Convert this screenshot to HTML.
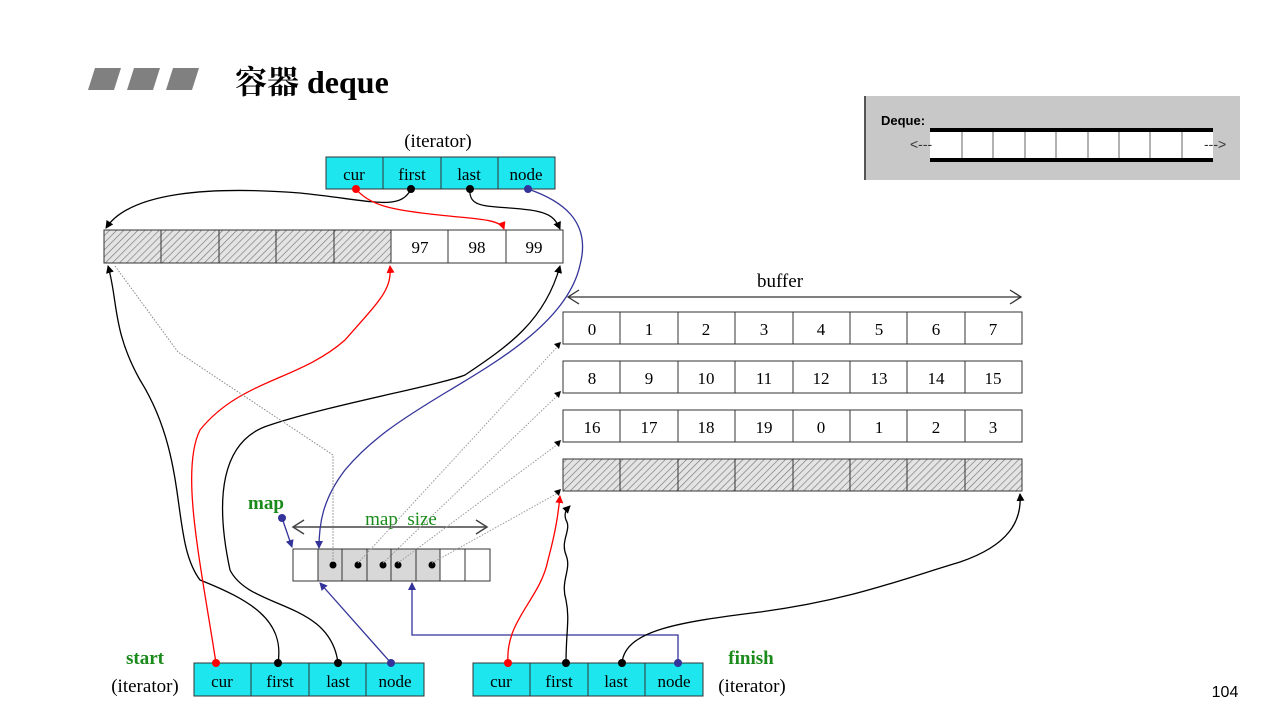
<!DOCTYPE html>
<html><head><meta charset="utf-8"><style>
body{margin:0;background:#fff;}
svg{display:block;font-family:"Liberation Serif","Noto Serif CJK SC",serif;}
</style></head><body>
<svg width="1280" height="728" viewBox="0 0 1280 728">
<defs>
<pattern id="hatch" width="5" height="5" patternUnits="userSpaceOnUse" patternTransform="rotate(45)">
<rect width="5" height="5" fill="#e4e4e4"/><line x1="0" y1="0" x2="0" y2="5" stroke="#777" stroke-width="1.3"/>
</pattern>
<marker id="ak" markerWidth="8" markerHeight="8" refX="7" refY="4" orient="auto" markerUnits="userSpaceOnUse"><path d="M0,0L8,4L0,8z" fill="#000"/></marker>
<marker id="ar" markerWidth="8" markerHeight="8" refX="7" refY="4" orient="auto" markerUnits="userSpaceOnUse"><path d="M0,0L8,4L0,8z" fill="#f00"/></marker>
<marker id="ab" markerWidth="8" markerHeight="8" refX="7" refY="4" orient="auto" markerUnits="userSpaceOnUse"><path d="M0,0L8,4L0,8z" fill="#33339a"/></marker>
</defs>

<!-- title -->
<g fill="#808080">
<polygon points="95,68 121,68 114,90 88,90"/><polygon points="134,68 160,68 153,90 127,90"/><polygon points="173,68 199,68 192,90 166,90"/>
</g>
<text x="235" y="93" font-size="32" font-weight="bold">容器 deque</text>

<!-- inset -->
<g>
<rect x="864" y="96" width="376" height="84" fill="#c8c8c8"/>
<rect x="864" y="96" width="2" height="84" fill="#555"/>
<text x="881" y="125" font-family="Liberation Sans,sans-serif" font-size="13" font-weight="bold">Deque:</text>
<rect x="930" y="132" width="283" height="26" fill="#fff"/>
<rect x="930" y="128" width="283" height="4" fill="#000"/>
<rect x="930" y="158" width="283" height="4" fill="#000"/>
<g stroke="#666" stroke-width="1">
<line x1="962" y1="132" x2="962" y2="158"/><line x1="993" y1="132" x2="993" y2="158"/><line x1="1025" y1="132" x2="1025" y2="158"/><line x1="1056" y1="132" x2="1056" y2="158"/><line x1="1088" y1="132" x2="1088" y2="158"/><line x1="1119" y1="132" x2="1119" y2="158"/><line x1="1150" y1="132" x2="1150" y2="158"/><line x1="1182" y1="132" x2="1182" y2="158"/>
</g>
<text x="910" y="149" font-size="14" font-family="Liberation Sans,sans-serif" fill="#333">&lt;---</text>
<text x="1204" y="149" font-size="14" font-family="Liberation Sans,sans-serif" fill="#333">---&gt;</text>
</g>

<!-- top iterator -->
<text x="438" y="147" font-size="19" text-anchor="middle">(iterator)</text>
<g font-size="17" text-anchor="middle">
<rect x="326" y="157" width="229" height="32" fill="#1ee6ee" stroke="#333"/>
<line x1="383" y1="157" x2="383" y2="189" stroke="#333"/><line x1="441" y1="157" x2="441" y2="189" stroke="#333"/><line x1="498" y1="157" x2="498" y2="189" stroke="#333"/>
<text x="354" y="180">cur</text><text x="412" y="180">first</text><text x="469" y="180">last</text><text x="526" y="180">node</text>
</g>

<!-- top buffer -->
<g font-size="17" text-anchor="middle">
<rect x="104" y="230" width="287" height="33" fill="url(#hatch)"/>
<rect x="104" y="230" width="459" height="33" fill="none" stroke="#333"/>
<line x1="161" y1="230" x2="161" y2="263" stroke="#333"/><line x1="219" y1="230" x2="219" y2="263" stroke="#333"/><line x1="276" y1="230" x2="276" y2="263" stroke="#333"/><line x1="334" y1="230" x2="334" y2="263" stroke="#333"/><line x1="391" y1="230" x2="391" y2="263" stroke="#333"/><line x1="448" y1="230" x2="448" y2="263" stroke="#333"/><line x1="506" y1="230" x2="506" y2="263" stroke="#333"/>
<text x="420" y="253">97</text><text x="477" y="253">98</text><text x="534" y="253">99</text>
</g>

<!-- buffer label -->
<text x="780" y="287" font-size="19" text-anchor="middle">buffer</text>
<g>
<line x1="568" y1="297" x2="1021" y2="297" stroke="#333" stroke-width="1.3"/>
<path d="M579,290L568,297L579,304M1010,290L1021,297L1010,304" fill="none" stroke="#333" stroke-width="1.3"/>
</g>

<g font-size="17" text-anchor="middle">
<g>
<rect x="563" y="312" width="459" height="32" fill="#fff" stroke="#333"/>
<g stroke="#333"><line x1="620" y1="312" x2="620" y2="344"/><line x1="678" y1="312" x2="678" y2="344"/><line x1="735" y1="312" x2="735" y2="344"/><line x1="793" y1="312" x2="793" y2="344"/><line x1="850" y1="312" x2="850" y2="344"/><line x1="907" y1="312" x2="907" y2="344"/><line x1="965" y1="312" x2="965" y2="344"/></g>
<text x="592" y="335">0</text><text x="649" y="335">1</text><text x="706" y="335">2</text><text x="764" y="335">3</text><text x="821" y="335">4</text><text x="879" y="335">5</text><text x="936" y="335">6</text><text x="993" y="335">7</text>
</g>
<g>
<rect x="563" y="361" width="459" height="32" fill="#fff" stroke="#333"/>
<g stroke="#333"><line x1="620" y1="361" x2="620" y2="393"/><line x1="678" y1="361" x2="678" y2="393"/><line x1="735" y1="361" x2="735" y2="393"/><line x1="793" y1="361" x2="793" y2="393"/><line x1="850" y1="361" x2="850" y2="393"/><line x1="907" y1="361" x2="907" y2="393"/><line x1="965" y1="361" x2="965" y2="393"/></g>
<text x="592" y="384">8</text><text x="649" y="384">9</text><text x="706" y="384">10</text><text x="764" y="384">11</text><text x="821" y="384">12</text><text x="879" y="384">13</text><text x="936" y="384">14</text><text x="993" y="384">15</text>
</g>
<g>
<rect x="563" y="410" width="459" height="32" fill="#fff" stroke="#333"/>
<g stroke="#333"><line x1="620" y1="410" x2="620" y2="442"/><line x1="678" y1="410" x2="678" y2="442"/><line x1="735" y1="410" x2="735" y2="442"/><line x1="793" y1="410" x2="793" y2="442"/><line x1="850" y1="410" x2="850" y2="442"/><line x1="907" y1="410" x2="907" y2="442"/><line x1="965" y1="410" x2="965" y2="442"/></g>
<text x="592" y="433">16</text><text x="649" y="433">17</text><text x="706" y="433">18</text><text x="764" y="433">19</text><text x="821" y="433">0</text><text x="879" y="433">1</text><text x="936" y="433">2</text><text x="993" y="433">3</text>
</g>
<g>
<rect x="563" y="459" width="459" height="32" fill="url(#hatch)" stroke="#333"/>
<g stroke="#333"><line x1="620" y1="459" x2="620" y2="491"/><line x1="678" y1="459" x2="678" y2="491"/><line x1="735" y1="459" x2="735" y2="491"/><line x1="793" y1="459" x2="793" y2="491"/><line x1="850" y1="459" x2="850" y2="491"/><line x1="907" y1="459" x2="907" y2="491"/><line x1="965" y1="459" x2="965" y2="491"/></g>
</g>
</g>

<!-- map -->
<text x="266" y="509" font-size="19" font-weight="bold" fill="#1a8a1a" text-anchor="middle">map</text>
<text x="401" y="525" font-size="19" fill="#1a8a1a" text-anchor="middle">map_size</text>
<line x1="293" y1="527" x2="487" y2="527" stroke="#444" stroke-width="1.5"/>
<path d="M304,520L293,527L304,534M476,520L487,527L476,534" fill="none" stroke="#444" stroke-width="1.5"/>
<g>
<rect x="318" y="549" width="122" height="32" fill="#d8d8d8"/>
<rect x="293" y="549" width="197" height="32" fill="none" stroke="#333"/>
<g stroke="#333"><line x1="318" y1="549" x2="318" y2="581"/><line x1="342" y1="549" x2="342" y2="581"/><line x1="367" y1="549" x2="367" y2="581"/><line x1="391" y1="549" x2="391" y2="581"/><line x1="416" y1="549" x2="416" y2="581"/><line x1="440" y1="549" x2="440" y2="581"/><line x1="465" y1="549" x2="465" y2="581"/></g>
<g fill="#000"><circle cx="333" cy="565" r="3.5"/><circle cx="358" cy="565" r="3.5"/><circle cx="383" cy="565" r="3.5"/><circle cx="398" cy="565" r="3.5"/><circle cx="432" cy="565" r="3.5"/></g>
</g>

<!-- bottom iterators -->
<text x="145" y="664" font-size="19" font-weight="bold" fill="#1a8a1a" text-anchor="middle">start</text>
<text x="145" y="692" font-size="19" text-anchor="middle">(iterator)</text>
<text x="751" y="664" font-size="19" font-weight="bold" fill="#1a8a1a" text-anchor="middle">finish</text>
<text x="752" y="692" font-size="19" text-anchor="middle">(iterator)</text>
<g font-size="17" text-anchor="middle">
<rect x="194" y="663" width="230" height="33" fill="#1ee6ee" stroke="#333"/>
<line x1="251" y1="663" x2="251" y2="696" stroke="#333"/><line x1="309" y1="663" x2="309" y2="696" stroke="#333"/><line x1="366" y1="663" x2="366" y2="696" stroke="#333"/>
<text x="222" y="687">cur</text><text x="280" y="687">first</text><text x="338" y="687">last</text><text x="395" y="687">node</text>
</g>
<g font-size="17" text-anchor="middle">
<rect x="473" y="663" width="230" height="33" fill="#1ee6ee" stroke="#333"/>
<line x1="530" y1="663" x2="530" y2="696" stroke="#333"/><line x1="588" y1="663" x2="588" y2="696" stroke="#333"/><line x1="645" y1="663" x2="645" y2="696" stroke="#333"/>
<text x="501" y="687">cur</text><text x="559" y="687">first</text><text x="616" y="687">last</text><text x="674" y="687">node</text>
</g>

<!-- connectors -->
<g fill="none" stroke-width="1.3">
<path d="M411,189 C400,212 370,200 300,193 C210,186 130,192 106,228" stroke="#000" marker-end="url(#ak)"/>
<path d="M356,189 C370,206 395,210 430,214 C470,219 500,218 504,229" stroke="#f00" marker-end="url(#ar)"/>
<path d="M470,189 C468,210 490,205 530,210 C552,213 556,220 560,229" stroke="#000" marker-end="url(#ak)"/>
<path d="M528,189 C560,200 592,220 580,265 C568,320 500,360 450,390 C400,420 370,440 345,470 C322,500 319,525 319,548" stroke="#33339a" marker-end="url(#ab)"/>
<path d="M278,663 C285,620 250,600 200,580 C170,540 190,460 140,380 C112,330 118,300 108,266" stroke="#000" marker-end="url(#ak)"/>
<path d="M216,663 C200,560 180,470 200,430 C240,380 300,380 345,340 C380,300 392,290 390,266" stroke="#f00" marker-end="url(#ar)"/>
<path d="M338,663 C330,600 250,610 230,570 C215,500 220,440 270,425 C330,405 440,385 465,375 C510,345 545,320 560,266" stroke="#000" marker-end="url(#ak)"/>
<path d="M115,266 L178,352 L333,455 L333,562" stroke="#888" stroke-dasharray="1.5,1.5" stroke-width="1"/>
<g stroke="#999" stroke-dasharray="1.5,1.5" stroke-width="1">
<line x1="358" y1="563" x2="558" y2="346"/><line x1="383" y1="563" x2="558" y2="395"/><line x1="398" y1="563" x2="558" y2="444"/><line x1="432" y1="563" x2="558" y2="493"/>
</g>
<g fill="#000"><path d="M561,342l-7,2l5,5z"/><path d="M561,391l-7,2l5,5z"/><path d="M561,440l-7,2l5,5z"/><path d="M561,489l-7,2l5,5z"/></g>
<path d="M282,518 L292,547" stroke="#33339a" marker-end="url(#ab)"/>
<path d="M391,663 L320,583" stroke="#33339a" marker-end="url(#ab)"/>
<path d="M678,663 L678,635 L412,635 L412,583" stroke="#33339a" marker-end="url(#ab)"/>
<path d="M508,663 C505,620 540,600 548,560 C556,530 558,515 560,496" stroke="#f00" marker-end="url(#ar)"/>
<path d="M566,663 C566,630 570,620 566,600 C560,580 572,570 566,555 C560,540 572,530 566,520 C563,512 568,508 570,506" stroke="#000" marker-end="url(#ak)"/>
<path d="M622,663 C625,630 680,622 760,612 C850,600 900,580 960,562 C1010,545 1022,520 1020,494" stroke="#000" marker-end="url(#ak)"/>
</g>
<g>
<circle cx="356" cy="189" r="4" fill="#f00"/><circle cx="411" cy="189" r="4" fill="#000"/><circle cx="470" cy="189" r="4" fill="#000"/><circle cx="528" cy="189" r="4" fill="#33339a"/>
<circle cx="282" cy="518" r="4" fill="#33339a"/>
<circle cx="216" cy="663" r="4" fill="#f00"/><circle cx="278" cy="663" r="4" fill="#000"/><circle cx="338" cy="663" r="4" fill="#000"/><circle cx="391" cy="663" r="4" fill="#33339a"/>
<circle cx="508" cy="663" r="4" fill="#f00"/><circle cx="566" cy="663" r="4" fill="#000"/><circle cx="622" cy="663" r="4" fill="#000"/><circle cx="678" cy="663" r="4" fill="#33339a"/>
</g>

<text x="1225" y="697" font-size="16" font-family="Liberation Sans,sans-serif" text-anchor="middle">104</text>
</svg>
</body></html>
